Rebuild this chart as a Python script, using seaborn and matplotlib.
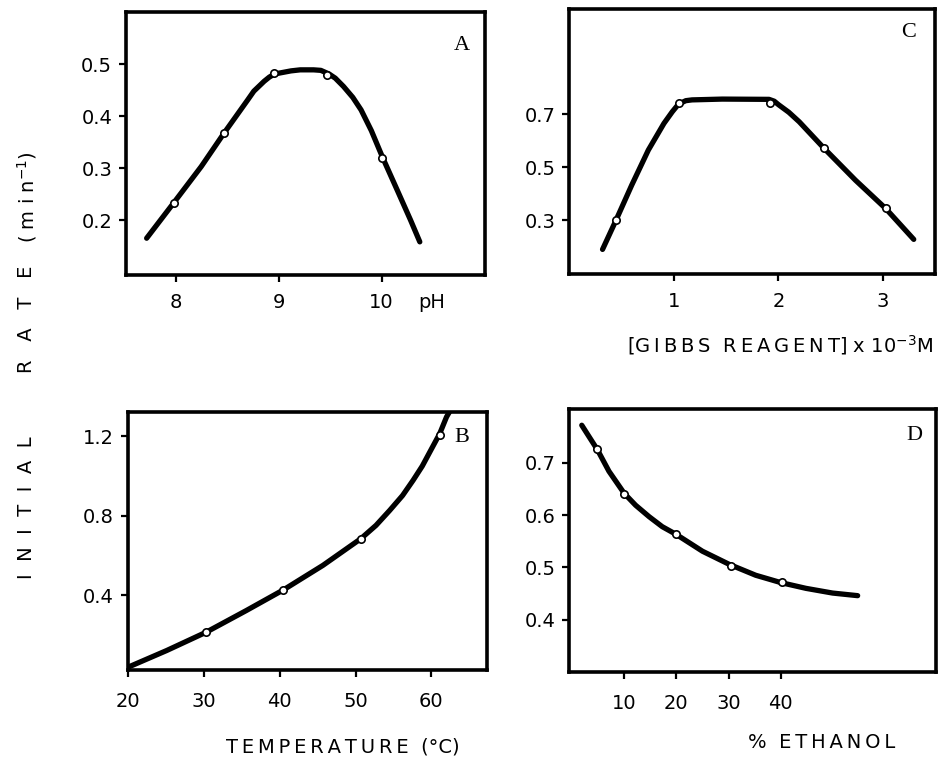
import matplotlib
matplotlib.use("Agg")
import matplotlib.pyplot as plt
import seaborn as sns
import pandas as pd

# ---- panel A: pH ----
ph_curve_x = [7.72, 7.99, 8.25, 8.47, 8.70, 8.76, 8.86, 8.91, 8.96, 9.12, 9.21, 9.34, 9.41, 9.49, 9.55,
              9.63, 9.72, 9.80, 9.90, 10.01, 10.15, 10.28, 10.37]
ph_curve_y = [0.165, 0.235, 0.303, 0.367, 0.431, 0.448, 0.467, 0.475, 0.481, 0.487, 0.489, 0.489, 0.488,
              0.481, 0.473, 0.457, 0.436, 0.412, 0.372, 0.320, 0.258, 0.200, 0.158]
ph_pts_x = [7.99, 8.47, 8.96, 9.47, 10.0]
ph_pts_y = [0.232, 0.367, 0.482, 0.480, 0.320]

# ---- panel C: Gibbs reagent ----
gibbs_curve_x = [0.31, 0.44, 0.59, 0.75, 0.90, 0.98, 1.04, 1.11, 1.17, 1.46, 1.91, 1.96, 2.00, 2.10,
                 2.20, 2.44, 2.74, 3.03, 3.30]
gibbs_curve_y = [0.189, 0.300, 0.432, 0.565, 0.666, 0.710, 0.739, 0.752, 0.755, 0.758, 0.757, 0.750,
                 0.737, 0.708, 0.672, 0.571, 0.451, 0.344, 0.227]
gibbs_pts_x = [0.44, 1.04, 1.92, 2.44, 3.03]
gibbs_pts_y = [0.300, 0.742, 0.745, 0.572, 0.345]

# ---- panel B: temperature ----
temp_curve_x = [20.0, 25.1, 30.3, 35.6, 40.5, 45.7, 50.7, 52.7, 54.5, 56.2, 57.6, 58.8, 59.8,
                61.1, 62.0, 62.5]
temp_curve_y = [0.039, 0.123, 0.215, 0.324, 0.428, 0.551, 0.685, 0.752, 0.827, 0.902, 0.979, 1.050,
                1.121, 1.213, 1.297, 1.33]
temp_pts_x = [30.3, 40.5, 50.7, 61.1]
temp_pts_y = [0.215, 0.425, 0.685, 1.205]

# ---- panel D: ethanol ----
eth_curve_x = [1.9, 3.3, 4.9, 7.1, 10.0, 12.2, 14.8, 17.3, 20.0, 25.0, 30.1, 35.2, 40.0, 44.8,
               49.9, 54.7]
eth_curve_y = [0.772, 0.750, 0.725, 0.684, 0.642, 0.619, 0.597, 0.578, 0.563, 0.531, 0.506, 0.485,
               0.471, 0.460, 0.451, 0.446]
eth_pts_x = [4.9, 10.0, 19.9, 30.5, 40.3]
eth_pts_y = [0.727, 0.640, 0.563, 0.502, 0.472]

sns.set_style("ticks")
plt.rcParams['font.family'] = ['DejaVu Sans']

fig = plt.figure(figsize=(9.44, 7.6), dpi=100)
axA = fig.add_axes([0.1335, 0.638, 0.380, 0.346])
axC = fig.add_axes([0.603, 0.6395, 0.387, 0.349])
axB = fig.add_axes([0.1356, 0.1184, 0.380, 0.339])
axD = fig.add_axes([0.603, 0.1158, 0.388, 0.346])


def draw(ax, cx, cy, px, py):
    curve = pd.DataFrame({"x": cx, "y": cy})
    pts = pd.DataFrame({"x": px, "y": py})
    sns.lineplot(data=curve, x="x", y="y", ax=ax, color="black", linewidth=3.8,
                 sort=False, estimator=None, solid_capstyle="round", solid_joinstyle="round")
    sns.scatterplot(data=pts, x="x", y="y", ax=ax, s=28, color="white",
                    edgecolor="black", linewidth=1.2, zorder=5)
    ax.set_xlabel("")
    ax.set_ylabel("")
    for sp in ax.spines.values():
        sp.set_visible(True)
        sp.set_linewidth(2.6)
        sp.set_color("black")
    ax.tick_params(direction="out", length=5, width=1.6, labelsize=14,
                   top=False, right=False, colors="black")
    ax.tick_params(axis="x", pad=8)
    ax.tick_params(axis="y", pad=5)


draw(axA, ph_curve_x, ph_curve_y, ph_pts_x, ph_pts_y)
axA.set_xlim(7.52, 11.0)
axA.set_ylim(0.094, 0.6)
axA.set_xticks([8, 9, 10])
axA.set_yticks([0.2, 0.3, 0.4, 0.5])
axA.set_yticklabels(["0.2", "0.3", "0.4", "0.5"])

draw(axC, gibbs_curve_x, gibbs_curve_y, gibbs_pts_x, gibbs_pts_y)
axC.set_xlim(-0.01, 3.5)
axC.set_ylim(0.096, 1.1)
axC.set_xticks([1, 2, 3])
axC.set_yticks([0.3, 0.5, 0.7])
axC.set_yticklabels(["0.3", "0.5", "0.7"])

draw(axB, temp_curve_x, temp_curve_y, temp_pts_x, temp_pts_y)
axB.set_xlim(20, 67.3)
axB.set_ylim(0.025, 1.32)
axB.set_xticks([20, 30, 40, 50, 60])
axB.set_yticks([0.4, 0.8, 1.2])
axB.set_yticklabels(["0.4", "0.8", "1.2"])
axB.tick_params(axis="x", pad=11)

draw(axD, eth_curve_x, eth_curve_y, eth_pts_x, eth_pts_y)
axD.set_xlim(-0.5, 69.6)
axD.set_ylim(0.30, 0.803)
axD.set_xticks([10, 20, 30, 40])
axD.set_yticks([0.4, 0.5, 0.6, 0.7])
axD.set_yticklabels(["0.4", "0.5", "0.6", "0.7"])
axD.tick_params(axis="x", pad=11)

# panel letters
for ax, letter, xf, yf in [(axA, "A", 0.936, 0.875), (axC, "C", 0.93, 0.91),
                           (axB, "B", 0.93, 0.903), (axD, "D", 0.943, 0.90)]:
    ax.text(xf, yf, letter, transform=ax.transAxes, ha="center", va="center",
            fontsize=16, family="Liberation Serif", color="black")

# axis labels
ts = "\u2009"
fig.text(432 / 944, 1 - 302 / 760, "pH", ha="center", va="center", fontsize=14, color="black")
fig.text(780 / 944, 1 - 345 / 760,
         "[" + ts.join("GIBBS") + "  " + ts.join("REAGENT") + "] x 10$^{-3}$M",
         ha="center", va="center", fontsize=14, color="black")
fig.text(343 / 944, 1 - 747 / 760, ts.join("TEMPERATURE") + "  (°C)", ha="center",
         va="center", fontsize=14, color="black")
fig.text(822 / 944, 1 - 743 / 760, "%  " + ts.join("ETHANOL"), ha="center", va="center",
         fontsize=14, color="black")
fig.text(27 / 944, 1 - 508 / 760, "I  N  I  T  I  A  L", ha="center", va="center",
         rotation=90, fontsize=14, color="black")
fig.text(27 / 944, 1 - 319 / 760, "R   A   T   E", ha="center", va="center",
         rotation=90, fontsize=14, color="black")
fig.text(27 / 944, 1 - 197 / 760, "( m i n$^{-1}$)", ha="center", va="center", rotation=90,
         fontsize=14, color="black")

plt.savefig("out.png", dpi=100)
